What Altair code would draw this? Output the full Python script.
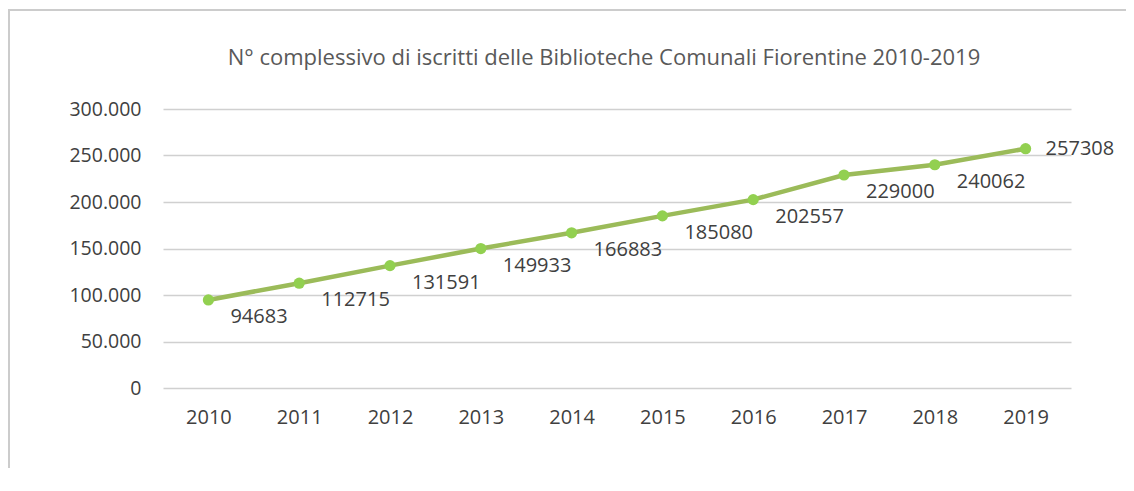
import altair as alt
import pandas as pd

years = [2010, 2011, 2012, 2013, 2014, 2015, 2016, 2017, 2018, 2019]
iscritti = [94683, 112715, 131591, 149933, 166883, 185080, 202557, 229000, 240062, 257308]
y_ticks = [0, 50000, 100000, 150000, 200000, 250000, 300000]
title_text = "N° complessivo di iscritti delle Biblioteche Comunali Fiorentine 2010-2019"

df = pd.DataFrame({"year": years, "value": iscritti})

FONT = "Open Sans"
LINE_COLOR = "#9BBB59"
POINT_COLOR = "#92D050"
TEXT_COLOR = "#404040"

x_enc = alt.X("year:O", scale=alt.Scale(type="point", padding=0.5),
              axis=alt.Axis(title=None, labelAngle=0, domain=False, ticks=False,
                            grid=False, labelPadding=19, labelFontSize=20,
                            labelColor=TEXT_COLOR, labelFont=FONT))
y_enc = alt.Y("value:Q", scale=alt.Scale(domain=[0, 300000], nice=False),
              axis=alt.Axis(title=None, values=y_ticks, domain=False, ticks=False,
                            grid=True, gridColor="#d0d0d0", gridWidth=1.5,
                            labelPadding=22, labelFontSize=19.5, labelColor=TEXT_COLOR,
                            labelFont=FONT,
                            labelExpr="datum.value == 0 ? '0' : format(datum.value / 1000, 'd') + '.000'"))

base = alt.Chart(df)

line = base.mark_line(color=LINE_COLOR, strokeWidth=4.5).encode(x=x_enc, y=y_enc)
points = base.mark_circle(color=POINT_COLOR, size=125, opacity=1).encode(x="year:O", y="value:Q")

labels_main = base.transform_filter("datum.year < 2019").mark_text(
    align="left", baseline="middle", dx=22, dy=17, fontSize=20, font=FONT, color=TEXT_COLOR
).encode(x="year:O", y="value:Q", text="value:Q")

labels_last = base.transform_filter("datum.year == 2019").mark_text(
    align="left", baseline="middle", dx=20, dy=0, fontSize=20, font=FONT, color=TEXT_COLOR
).encode(x="year:O", y="value:Q", text="value:Q")

one = alt.Chart(pd.DataFrame({"t": [title_text]}))

frame = one.mark_rect(
    fill="transparent", stroke="#cccccc", strokeWidth=2
).encode(x=alt.value(-154), x2=alt.value(2000), y=alt.value(-99), y2=alt.value(1000))

title = one.mark_text(
    align="center", baseline="middle", fontSize=22, font=FONT, color="#595959"
).encode(x=alt.value(441), y=alt.value(-51), text="t:N")

chart = alt.layer(frame, line, points, labels_main, labels_last, title).properties(
    width=908,
    height=279,
    autosize=alt.AutoSizeParams(type="none"),
    padding={"left": 155, "top": 101, "right": 55, "bottom": 80},
).configure_view(stroke=None)

chart.save("out.html", embed_options={"renderer": "svg", "actions": False})
